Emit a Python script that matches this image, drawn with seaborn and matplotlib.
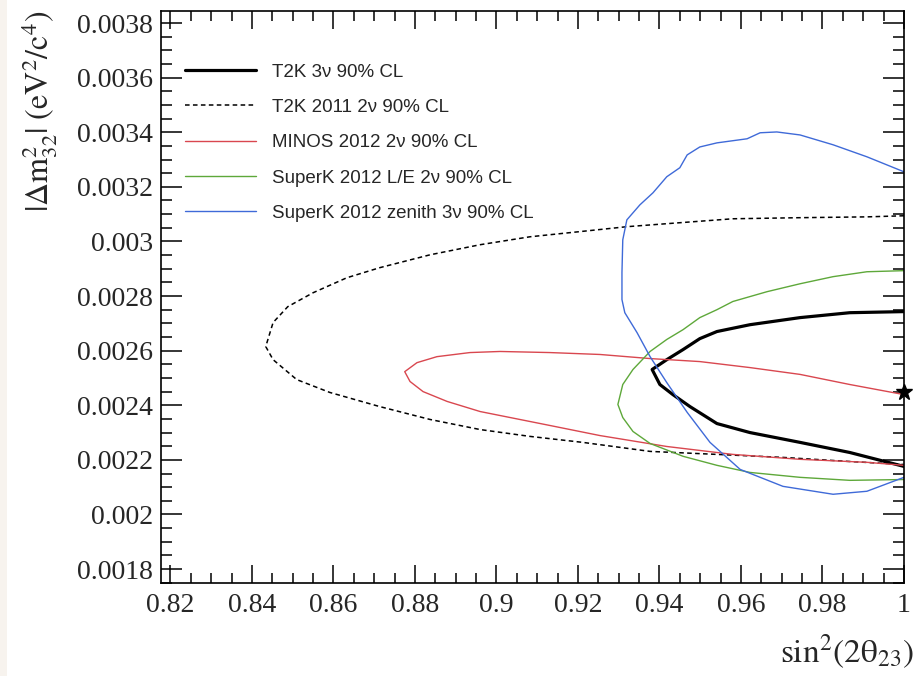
import matplotlib
matplotlib.use("Agg")
import matplotlib.pyplot as plt
import seaborn as sns
import pandas as pd
from matplotlib.ticker import MultipleLocator
from matplotlib.patches import Rectangle

# --- contour data: sin^2(2theta23) vs |dm^2_32| (eV^2/c^4) ---
t2k_3nu_x = [1.0, 0.9867, 0.9745, 0.9622, 0.9541, 0.9499, 0.9458, 0.9418, 0.9382,
             0.9401, 0.9433, 0.9475, 0.9541, 0.9622, 0.9745, 0.9867, 1.0]
t2k_3nu_y = [0.002743, 0.002739, 0.002721, 0.002695, 0.002670, 0.002644, 0.002604, 0.002567, 0.002531,
             0.002476, 0.002439, 0.002395, 0.002333, 0.002300, 0.002264, 0.002227, 0.002176]

t2k_2011_x = [1.0, 0.9909, 0.9745, 0.9580, 0.9418, 0.9320, 0.9205, 0.9082, 0.8960, 0.8837,
              0.8714, 0.8633, 0.8550, 0.8488, 0.8452, 0.8434,
              0.8452, 0.8510, 0.8591, 0.8714, 0.8837, 0.8960, 0.9082, 0.9212, 0.9377,
              0.9541, 0.9703, 0.9867, 1.0]
t2k_2011_y = [0.003094, 0.003090, 0.003087, 0.003083, 0.003065, 0.003054, 0.003036, 0.003017, 0.002988, 0.002951,
              0.002904, 0.002867, 0.002812, 0.002761, 0.002703, 0.002615,
              0.002567, 0.002494, 0.002447, 0.002395, 0.002348, 0.002311, 0.002286, 0.002264, 0.002231,
              0.002220, 0.002209, 0.002194, 0.002183]

minos_x = [1.0, 0.9867, 0.9745, 0.9622, 0.9499, 0.9377, 0.9254, 0.9131, 0.9009, 0.8935,
           0.8854, 0.8805, 0.8775, 0.8788, 0.8820, 0.8879, 0.8960, 0.9131, 0.9254, 0.9418,
           0.9580, 0.9745, 0.9909, 1.0]
minos_y = [0.002439, 0.002476, 0.002513, 0.002538, 0.002560, 0.002571, 0.002586, 0.002593, 0.002597, 0.002593,
           0.002578, 0.002556, 0.002523, 0.002487, 0.002450, 0.002414, 0.002377, 0.002326, 0.002289, 0.002249,
           0.002220, 0.002202, 0.002191, 0.002180]

sk_le_x = [1.0, 0.9909, 0.9826, 0.9745, 0.9664, 0.9580, 0.9541, 0.9499, 0.9458, 0.9418,
           0.9377, 0.9335, 0.9310, 0.9298, 0.9310, 0.9335, 0.9377, 0.9458, 0.9541, 0.9622,
           0.9745, 0.9867, 1.0]
sk_le_y = [0.002893, 0.002889, 0.002871, 0.002845, 0.002816, 0.002780, 0.002750, 0.002721, 0.002677, 0.002641,
           0.002597, 0.002531, 0.002476, 0.002403, 0.002355, 0.002304, 0.002260, 0.002213, 0.002180, 0.002154,
           0.002136, 0.002125, 0.002128]

sk_zen_x = [1.0, 0.9909, 0.9826, 0.9745, 0.9688, 0.9647, 0.9615, 0.9541, 0.9499, 0.9468,
            0.9450, 0.9418, 0.9384, 0.9352, 0.9320, 0.9310, 0.9308, 0.9308, 0.9315, 0.9345,
            0.9377, 0.9418, 0.9468, 0.9524, 0.9598, 0.9703, 0.9826, 0.9909, 1.0]
sk_zen_y = [0.003255, 0.003310, 0.003354, 0.003390, 0.003401, 0.003398, 0.003376, 0.003361, 0.003346, 0.003317,
            0.003270, 0.003237, 0.003178, 0.003134, 0.003079, 0.003006, 0.002886, 0.002787, 0.002739, 0.002666,
            0.002578, 0.002483, 0.002374, 0.002264, 0.002165, 0.002103, 0.002074, 0.002085, 0.002136]

best_fit_x = [1.0]
best_fit_y = [0.00245]

labels = ["T2K 3\u03bd 90% CL", "T2K 2011 2\u03bd 90% CL", "MINOS 2012 2\u03bd 90% CL",
          "SuperK 2012 L/E 2\u03bd 90% CL", "SuperK 2012 zenith 3\u03bd 90% CL"]

sns.set_theme(style="ticks")
plt.rcParams["font.family"] = ["Liberation Serif", "DejaVu Serif"]
plt.rcParams["mathtext.fontset"] = "stix"

fig = plt.figure(figsize=(9.13, 6.76), dpi=100)
fig.patch.set_facecolor("white")
fig.patches.append(Rectangle((0, 0), 7 / 913, 1, transform=fig.transFigure,
                             facecolor="#f7f3ee", edgecolor="none", zorder=0))
ax = fig.add_axes([161 / 913, 1 - 583 / 676, 743 / 913, 572 / 676])
ax.set_facecolor("white")

series = [
    (t2k_3nu_x, t2k_3nu_y, "black", 2.3, "-"),
    (t2k_2011_x, t2k_2011_y, "black", 1.1, (0, (3.0, 2.2))),
    (minos_x, minos_y, "#d9474f", 1.0, "-"),
    (sk_le_x, sk_le_y, "#5ea83a", 1.0, "-"),
    (sk_zen_x, sk_zen_y, "#3f6ad8", 1.0, "-"),
]
for (xs, ys, col, lw, ls), lab in zip(series, labels):
    df = pd.DataFrame({"s": xs, "dm": ys})
    sns.lineplot(data=df, x="s", y="dm", sort=False, estimator=None, ax=ax,
                 color=col, linewidth=lw, linestyle=ls, label=lab)

# best-fit point on the physical boundary
ax.plot(best_fit_x, best_fit_y, marker="*", color="black", markersize=12,
        linestyle="none", clip_on=False, zorder=10)

ax.set_xlim(0.8177, 1.0)
ax.set_ylim(0.001749, 0.003844)
ax.xaxis.set_major_locator(MultipleLocator(0.02))
ax.xaxis.set_minor_locator(MultipleLocator(0.005))
ax.yaxis.set_major_locator(MultipleLocator(0.0002))
ax.yaxis.set_minor_locator(MultipleLocator(0.00005))


def xfmt(v, pos):
    return f"{v:.2f}".rstrip("0").rstrip(".")


def yfmt(v, pos):
    return f"{v:.4f}".rstrip("0").rstrip(".")


ax.xaxis.set_major_formatter(plt.FuncFormatter(xfmt))
ax.yaxis.set_major_formatter(plt.FuncFormatter(yfmt))

ax.tick_params(axis="both", which="both", direction="in", top=True, right=True,
               color="black", width=1.1)
ax.tick_params(axis="x", which="major", length=13, pad=7, labelsize=20)
ax.tick_params(axis="x", which="minor", length=7)
ax.tick_params(axis="y", which="major", length=15, pad=6, labelsize=20)
ax.tick_params(axis="y", which="minor", length=8)
for sp in ax.spines.values():
    sp.set_linewidth(1.2)
    sp.set_color("black")

ax.set_xlabel("")
ax.set_ylabel(r"$|\Delta\mathrm{m}^{2}_{32}|\ (\mathrm{eV}^{2}/\mathrm{c}^{4})$",
              fontsize=23, loc="top", labelpad=13)
fig.text(780 / 913, 1 - 663 / 676, r"$\mathrm{sin}^{2}(2\mathrm{θ}_{23})$",
         fontsize=24, ha="left", va="baseline")

leg = ax.legend(loc="upper left", bbox_to_anchor=(0.032, 0.908), frameon=False,
                prop={"family": "Liberation Sans", "size": 13.5},
                handlelength=3.8, handletextpad=0.85, labelspacing=0.97,
                borderpad=0, borderaxespad=0)

fig.savefig("out.png", dpi=100)
